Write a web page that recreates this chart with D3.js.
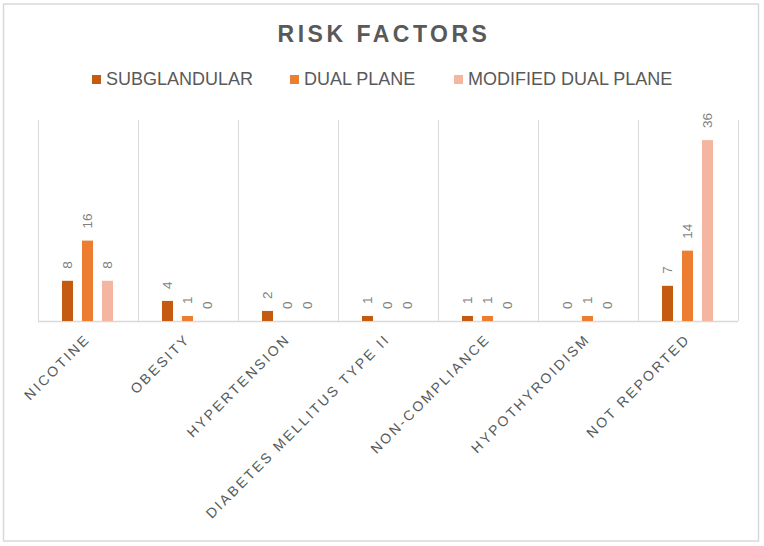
<!DOCTYPE html>
<html>
<head>
<meta charset="utf-8">
<script src="https://cdn.jsdelivr.net/npm/d3@7"></script>
<style>
  body { margin: 0; background: #fff; }
  text { font-family: "Liberation Sans", Arial, sans-serif; }
</style>
</head>
<body>
<script>
var categories = ['NICOTINE', 'OBESITY', 'HYPERTENSION', 'DIABETES MELLITUS TYPE II', 'NON-COMPLIANCE', 'HYPOTHYROIDISM', 'NOT REPORTED']
var seriesNames = ['SUBGLANDULAR', 'DUAL PLANE', 'MODIFIED DUAL PLANE']
var subglandular = [8, 4, 2, 1, 1, 0, 7]
var dualPlane = [16, 1, 0, 0, 1, 1, 14]
var modifiedDualPlane = [8, 0, 0, 0, 0, 0, 36]
var colors = ['#C55A11', '#ED7D31', '#F4B6A1']

var width = 764
var height = 546
var margin = {left: 38, right: 26, top: 120, bottom: 225}  // plot area 38..738 x 120..321

var series = [subglandular, dualPlane, modifiedDualPlane]

var svg = d3.select('body').append('svg').attr('width', width).attr('height', height)

// chart border
svg.append('rect')
  .attr('x', 3.5).attr('y', 4)
  .attr('width', 755).attr('height', 537)
  .attr('fill', '#fff').attr('stroke', '#d9d9d9').attr('stroke-width', 1.5)

var x = d3.scaleBand()
  .domain(categories)
  .range([margin.left, width - margin.right])

var inner = d3.scaleBand()
  .domain(seriesNames)
  .range([24, 75])   // 11px bars, 20px apart, centred in each 100px band
  .paddingInner(0.45)

var y = d3.scaleLinear()
  .domain([0, 40])
  .range([height - margin.bottom, margin.top])

// vertical gridlines between categories
var bounds = categories.map(c => x(c)).concat([x.range()[1]])
svg.append('g').selectAll('line').data(bounds).join('line')
  .attr('x1', d => d + 0.5).attr('x2', d => d + 0.5)
  .attr('y1', y(40)).attr('y2', y(0))
  .attr('stroke', '#d9d9d9')

// baseline
svg.append('line')
  .attr('x1', x.range()[0]).attr('x2', x.range()[1])
  .attr('y1', y(0) + 0.5).attr('y2', y(0) + 0.5)
  .attr('stroke', '#d9d9d9').attr('stroke-width', 1.5)

// bars
var rows = []
categories.forEach((c, i) => {
  seriesNames.forEach((s, j) => rows.push({cat: c, name: s, value: series[j][i], j: j}))
})

svg.append('g').selectAll('rect').data(rows).join('rect')
  .attr('x', d => x(d.cat) + inner(d.name))
  .attr('width', inner.bandwidth())
  .attr('y', d => y(d.value))
  .attr('height', d => y(0) - y(d.value))
  .attr('fill', d => colors[d.j])

// data labels, rotated
svg.append('g').selectAll('text').data(rows).join('text')
  .attr('transform', d => `translate(${x(d.cat) + inner(d.name) + inner.bandwidth() / 2},${y(d.value) - 12}) rotate(-90)`)
  .attr('dy', '0.35em')
  .attr('text-anchor', 'start')
  .attr('font-size', 13.5)
  .attr('fill', '#7f7f7f')
  .text(d => d.value)

// category labels at -45 degrees
svg.append('g').selectAll('text').data(categories).join('text')
  .attr('transform', d => `translate(${x(d) + x.bandwidth() / 2 + 3},${y(0) + 19}) rotate(-45)`)
  .attr('text-anchor', 'end')
  .attr('font-size', 14)
  .attr('letter-spacing', 2.4)
  .attr('fill', '#595959')
  .text(d => d)

// title
svg.append('text')
  .attr('x', width / 2 + 2).attr('y', 42)
  .attr('text-anchor', 'middle')
  .attr('font-size', 23)
  .attr('font-weight', 'bold')
  .attr('letter-spacing', 3.5)
  .attr('fill', '#595959')
  .text('RISK FACTORS')

// legend
var legendX = [92, 290, 454]
var legend = svg.append('g').selectAll('g').data(seriesNames).join('g')
  .attr('transform', (d, i) => `translate(${legendX[i]},85)`)
legend.append('rect')
  .attr('x', 0).attr('y', -10).attr('width', 9).attr('height', 9)
  .attr('fill', (d, i) => colors[i])
legend.append('text')
  .attr('x', 14).attr('y', 0)
  .attr('font-size', 18)
  .attr('fill', '#595959')
  .text(d => d)
</script>
</body>
</html>
